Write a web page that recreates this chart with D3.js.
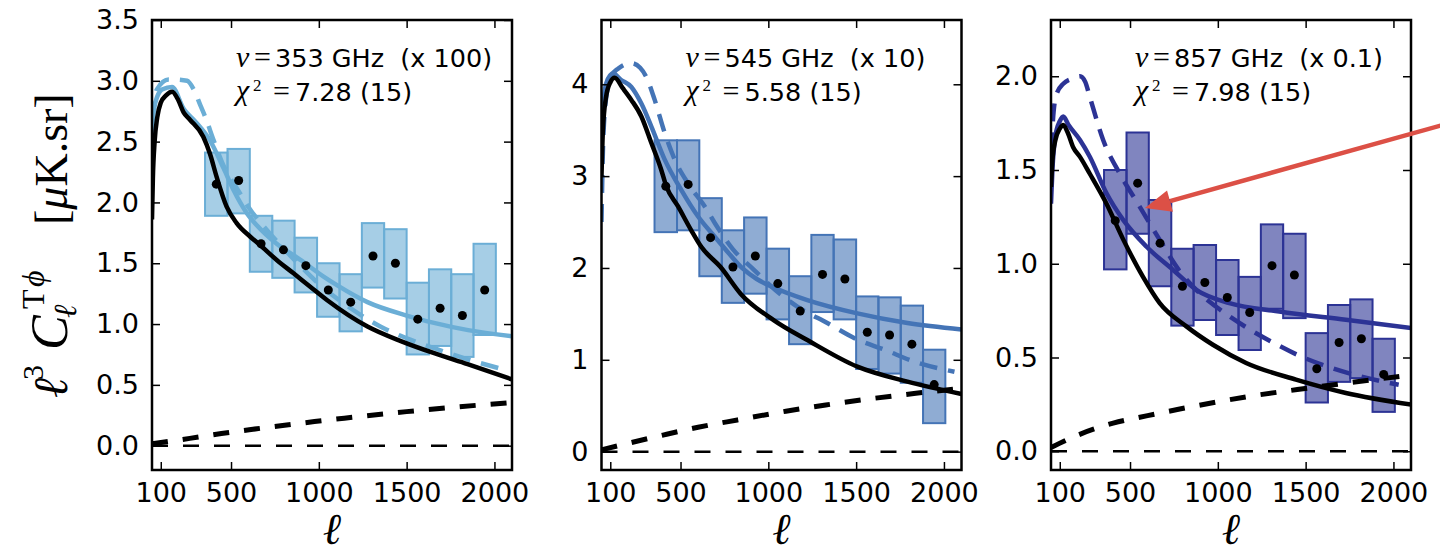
<!DOCTYPE html>
<html>
<head>
<meta charset="utf-8">
<script src="https://d3js.org/d3.v7.min.js"></script>
<style>
  body { margin: 0; background: #fff; }
  svg text { font-family: 'DejaVu Sans', sans-serif; fill: #000; }
  svg text.math { font-family: 'Liberation Serif', 'DejaVu Serif', serif; }
</style>
</head>
<body>
<svg id="chart" width="1440" height="554"></svg>
<script>

// multipole bins (same for the three frequencies)
var binEdges = [352, 480, 607, 735, 862, 990, 1118, 1245, 1372, 1500, 1627, 1754, 1881, 2008];
var xTicks = [100, 500, 1000, 1500, 2000];

// 353 GHz (x 100)
var yTicks353 = [0, 0.5, 1, 1.5, 2, 2.5, 3, 3.5];
var dots353 = [2.15, 2.18, 1.66, 1.61, 1.48, 1.28, 1.18, 1.56, 1.50, 1.04, 1.13, 1.07, 1.28];
var hi353 = [2.41, 2.44, 1.89, 1.85, 1.71, 1.50, 1.41, 1.83, 1.78, 1.34, 1.45, 1.41, 1.66];
var lo353 = [1.89, 1.91, 1.43, 1.38, 1.26, 1.06, 0.94, 1.30, 1.21, 0.75, 0.82, 0.73, 0.91];
var black353 = [[50, 1.86], [55, 2.2], [65, 2.5], [80, 2.7], [100, 2.82], [130, 2.88], [164, 2.91], [200, 2.84], [230, 2.74],
    [266, 2.68], [342, 2.54], [380, 2.40], [418, 2.21], [475, 1.965], [532, 1.83], [608, 1.72], [665, 1.65], [760, 1.527],
    [856, 1.417], [951, 1.307], [1046, 1.198], [1277, 0.98], [1467, 0.86], [1657, 0.76], [1847, 0.67], [2100, 0.545]];
var fit353 = [[50, 2.55], [60, 2.75], [80, 2.87], [110, 2.93], [164, 2.95], [230, 2.77], [300, 2.66], [380, 2.51], [458, 2.28],
    [515, 2.10], [591, 1.91], [648, 1.81], [760, 1.66], [893, 1.53], [1027, 1.39], [1103, 1.32], [1277, 1.18], [1500, 1.07],
    [1656, 1.01], [1850, 0.95], [2100, 0.90]];
var fitDash353 = [[50, 2.68], [60, 2.82], [78, 2.93], [145, 3.01], [183, 3.01], [250, 3.0], [287, 2.93], [325, 2.80], [354, 2.70],
    [401, 2.51], [449, 2.33], [553, 2.07], [600, 1.96], [700, 1.78], [800, 1.62], [900, 1.47], [1000, 1.33], [1181, 1.13],
    [1350, 0.98], [1524, 0.87], [1700, 0.78], [1847, 0.71], [2056, 0.625]];
var blackDash353 = [[50, 0.015], [265, 0.06], [445, 0.10], [625, 0.135], [805, 0.168], [975, 0.198], [1145, 0.226],
    [1500, 0.28], [1800, 0.32], [2100, 0.355]];

// 545 GHz (x 10)
var yTicks545 = [0, 1, 2, 3, 4];
var dots545 = [2.89, 2.91, 2.33, 2.01, 2.13, 1.83, 1.53, 1.93, 1.88, 1.30, 1.27, 1.17, 0.73];
var hi545 = [3.39, 3.39, 2.76, 2.41, 2.55, 2.21, 1.91, 2.36, 2.31, 1.69, 1.68, 1.59, 1.11];
var lo545 = [2.39, 2.41, 1.91, 1.62, 1.72, 1.44, 1.17, 1.52, 1.44, 0.90, 0.85, 0.75, 0.31];
var black545 = [[50, 3.0], [58, 3.5], [75, 3.85], [100, 4.02], [125, 4.07], [170, 3.96], [220, 3.83], [277, 3.65], [334, 3.36],
    [390, 3.07], [419, 2.89], [486, 2.67], [561, 2.41], [618, 2.23], [728, 2.01], [842, 1.72], [1032, 1.43], [1222, 1.215],
    [1507, 0.925], [1792, 0.762], [2100, 0.628]];
var fit545 = [[50, 3.3], [58, 3.7], [75, 4.0], [100, 4.1], [115, 4.12], [160, 4.05], [220, 3.97], [277, 3.79], [334, 3.54],
    [410, 3.18], [504, 2.85], [600, 2.56], [695, 2.34], [766, 2.18], [850, 2.0], [934, 1.88], [1028, 1.79], [1222, 1.65],
    [1507, 1.505], [1792, 1.40], [2100, 1.33]];
var fitDash545 = [[50, 2.5], [60, 3.4], [80, 3.9], [110, 4.1], [144, 4.17], [220, 4.23], [270, 4.18], [305, 4.08], [353, 3.83],
    [410, 3.47], [467, 3.18], [543, 2.92], [638, 2.67], [695, 2.49], [800, 2.2], [918, 1.98], [1040, 1.76], [1165, 1.58],
    [1336, 1.40], [1507, 1.22], [1661, 1.11], [1832, 0.98], [2060, 0.87]];
var blackDash545 = [[50, 0.02], [200, 0.09], [400, 0.18], [600, 0.265], [824, 0.345], [1100, 0.44], [1327, 0.508],
    [1600, 0.58], [1840, 0.635], [2060, 0.68]];

// 857 GHz (x 0.1)
var yTicks857 = [0, 0.5, 1, 1.5, 2];
var dots857 = [1.23, 1.43, 1.11, 0.88, 0.90, 0.82, 0.74, 0.99, 0.94, 0.44, 0.58, 0.60, 0.41];
var hi857 = [1.50, 1.70, 1.34, 1.08, 1.10, 1.02, 0.93, 1.21, 1.16, 0.63, 0.78, 0.81, 0.60];
var lo857 = [0.97, 1.16, 0.88, 0.67, 0.70, 0.62, 0.54, 0.76, 0.71, 0.26, 0.37, 0.39, 0.21];
var black857 = [[50, 1.41], [58, 1.55], [75, 1.66], [100, 1.72], [120, 1.74], [145, 1.70], [177, 1.62], [215, 1.57], [271, 1.48],
    [366, 1.32], [461, 1.13], [574, 0.93], [669, 0.79], [821, 0.666], [972, 0.568], [1161, 0.471], [1445, 0.382],
    [1729, 0.311], [2100, 0.249]];
var fit857 = [[50, 1.32], [58, 1.5], [75, 1.68], [100, 1.76], [120, 1.785], [150, 1.74], [215, 1.66], [271, 1.571], [366, 1.376],
    [461, 1.234], [593, 1.092], [744, 0.968], [877, 0.861], [1066, 0.79], [1350, 0.745], [1729, 0.701], [2100, 0.657]];
var fitDash857 = [[50, 1.45], [60, 1.75], [80, 1.9], [120, 1.96], [180, 1.99], [215, 2.0], [245, 1.97], [271, 1.89], [347, 1.66],
    [442, 1.48], [555, 1.305], [669, 1.127], [783, 0.96], [900, 0.84], [1010, 0.757], [1181, 0.65], [1314, 0.58],
    [1487, 0.50], [1639, 0.447], [1975, 0.365], [2030, 0.355]];
var blackDash857 = [[50, 0.02], [200, 0.085], [404, 0.15], [600, 0.19], [783, 0.225], [1161, 0.29], [1540, 0.34], [2041, 0.40]];

var panels = [
    {freq: '353', mult: '100', chi2: '7.28', dof: '15', color: '#6baed6', yDomain: [-0.2, 3.5], yTicks: yTicks353, fmt: '.1f',
        dots: dots353, hi: hi353, lo: lo353, black: black353, fit: fit353, fitDash: fitDash353, blackDash: blackDash353},
    {freq: '545', mult: '10', chi2: '5.58', dof: '15', color: '#4474b6', yDomain: [-0.2, 4.7], yTicks: yTicks545, fmt: 'd',
        dots: dots545, hi: hi545, lo: lo545, black: black545, fit: fit545, fitDash: fitDash545, blackDash: blackDash545},
    {freq: '857', mult: '0.1', chi2: '7.98', dof: '15', color: '#2c3395', yDomain: [-0.1, 2.3], yTicks: yTicks857, fmt: '.1f',
        dots: dots857, hi: hi857, lo: lo857, black: black857, fit: fit857, fitDash: fitDash857, blackDash: blackDash857}
];

var svg = d3.select('#chart');

var panelLeft = [152, 601.5, 1051];
var plotTop = 20,
    plotW = 360,
    plotH = 450;

function drawPanel(p, i)
{
    var left = panelLeft[i];
    var x = d3.scaleLinear().domain([50, 2100]).range([left, left + plotW]);
    var y = d3.scaleLinear().domain(p.yDomain).range([plotTop + plotH, plotTop]);

    var g = svg.append('g');

    g.append('clipPath')
        .attr('id', 'clip' + i)
        .append('rect')
        .attr('x', left).attr('y', plotTop)
        .attr('width', plotW).attr('height', plotH);

    var plot = g.append('g').attr('clip-path', 'url(#clip' + i + ')');

    // zero line
    plot.append('line')
        .attr('x1', x(50)).attr('x2', x(2100))
        .attr('y1', y(0)).attr('y2', y(0))
        .attr('stroke', '#000')
        .attr('stroke-width', 2.5)
        .attr('stroke-dasharray', '16,15');

    // binned measurements
    plot.selectAll('rect.bin')
        .data(p.dots)
        .enter()
        .append('rect')
        .attr('class', 'bin')
        .attr('x', function (d, k) { return x(binEdges[k]); })
        .attr('width', function (d, k) { return x(binEdges[k + 1]) - x(binEdges[k]); })
        .attr('y', function (d, k) { return y(p.hi[k]); })
        .attr('height', function (d, k) { return y(p.lo[k]) - y(p.hi[k]); })
        .attr('fill', p.color)
        .attr('fill-opacity', 0.6)
        .attr('stroke', p.color)
        .attr('stroke-width', 2);

    var line = d3.line()
        .x(function (d) { return x(d[0]); })
        .y(function (d) { return y(d[1]); })
        .curve(d3.curveMonotoneX);

    plot.append('path').datum(p.fit)
        .attr('d', line).attr('fill', 'none')
        .attr('stroke', p.color).attr('stroke-width', 4.5);

    plot.append('path').datum(p.fitDash)
        .attr('d', line).attr('fill', 'none')
        .attr('stroke', p.color).attr('stroke-width', 4.5)
        .attr('stroke-dasharray', '18,11');

    plot.append('path').datum(p.blackDash)
        .attr('d', line).attr('fill', 'none')
        .attr('stroke', '#000').attr('stroke-width', 5)
        .attr('stroke-dasharray', '16,15');

    plot.append('path').datum(p.black)
        .attr('d', line).attr('fill', 'none')
        .attr('stroke', '#000').attr('stroke-width', 4.5);

    plot.selectAll('circle.pt')
        .data(p.dots)
        .enter()
        .append('circle')
        .attr('class', 'pt')
        .attr('cx', function (d, k) { return x((binEdges[k] + binEdges[k + 1]) / 2); })
        .attr('cy', function (d) { return y(d); })
        .attr('r', 4.5)
        .attr('fill', '#000');

    // axes, ticks inside on all four sides
    var axes = [
        {a: d3.axisBottom(x).tickValues(xTicks).tickFormat(d3.format('d')), t: 'translate(0,' + (plotTop + plotH) + ')'},
        {a: d3.axisTop(x).tickValues(xTicks).tickFormat(''), t: 'translate(0,' + plotTop + ')'},
        {a: d3.axisLeft(y).tickValues(p.yTicks).tickFormat(d3.format(p.fmt)), t: 'translate(' + left + ',0)'},
        {a: d3.axisRight(y).tickValues(p.yTicks).tickFormat(''), t: 'translate(' + (left + plotW) + ',0)'}
    ];
    axes.forEach(function (ax) {
        var ag = g.append('g')
            .attr('transform', ax.t)
            .call(ax.a.tickSizeInner(-8).tickSizeOuter(0).tickPadding(13));
        ag.select('.domain').remove();
        ag.selectAll('line').attr('stroke', '#000').attr('stroke-width', 1.5);
        ag.selectAll('text')
            .attr('fill', '#000')
            .style('font-family', "'DejaVu Sans', sans-serif")
            .style('font-size', '27px');
    });

    g.append('rect')
        .attr('x', left).attr('y', plotTop)
        .attr('width', plotW).attr('height', plotH)
        .attr('fill', 'none')
        .attr('stroke', '#000')
        .attr('stroke-width', 2.5);

    // x label
    g.append('text')
        .attr('class', 'math')
        .attr('x', left + plotW / 2)
        .attr('y', 544)
        .attr('text-anchor', 'middle')
        .style('font-size', '44px')
        .style('font-style', 'italic')
        .text('\u2113');

    // frequency and chi2 annotation
    var tx = left + 84;
    g.append('text').attr('class', 'math').attr('x', tx).attr('y', 67)
        .style('font-size', '30px').style('font-style', 'italic').text('\u03bd');
    g.append('text').attr('class', 'math').attr('x', tx + 18).attr('y', 67)
        .style('font-size', '30px').text('=');
    g.append('text').attr('x', tx + 39).attr('y', 67)
        .style('font-size', '25.5px').style('white-space', 'pre')
        .text(p.freq + ' GHz  (x ' + p.mult + ')');

    g.append('text').attr('class', 'math').attr('x', tx).attr('y', 100)
        .style('font-size', '30px').style('font-style', 'italic').text('\u03c7');
    g.append('text').attr('class', 'math').attr('x', tx + 17).attr('y', 91)
        .style('font-size', '17px').text('2');
    g.append('text').attr('class', 'math').attr('x', tx + 37).attr('y', 101)
        .style('font-size', '30px').text('=');
    g.append('text').attr('x', tx + 59).attr('y', 101)
        .style('font-size', '25.5px')
        .text(p.chi2 + ' (' + p.dof + ')');

    return {x: x, y: y};
}

var scales = panels.map(drawPanel);

// y label, written bottom to top
var ylab = svg.append('g').attr('transform', 'translate(67,0) rotate(-90)');
function ypart(txt, pos, dy, size, italic)
{
    ylab.append('text')
        .attr('class', 'math')
        .attr('x', -pos)
        .attr('y', dy)
        .style('font-size', size + 'px')
        .style('font-style', italic ? 'italic' : 'normal')
        .text(txt);
}
ypart('\u2113', 398, 0, 48, true);
ypart('3', 380, -24, 30, false);
ypart('C', 350, 0, 52, true);
ypart('\u2113', 318, 9, 32, true);
ypart('T', 309, -23, 32, false);
ypart('\u03d5', 287, -23, 32, true);

var br = ylab.append('text')
    .attr('class', 'math')
    .attr('x', -225)
    .attr('y', 0)
    .style('font-size', '46px');
br.append('tspan').text('[');
br.append('tspan').style('font-style', 'italic').text('\u03bc');
br.append('tspan').text('K.sr]');

// red arrow pointing at the 857 GHz dashed curve
var ax = scales[2].x, ay = scales[2].y;
var tip = [ax(585), ay(1.297)],
    tail = [ax(2300), ay(1.745)];
var dx = tip[0] - tail[0], dy = tip[1] - tail[1];
var len = Math.sqrt(dx * dx + dy * dy);
var ux = dx / len, uy = dy / len;
var base = [tip[0] - 26 * ux, tip[1] - 26 * uy];
svg.append('line')
    .attr('x1', tail[0]).attr('y1', tail[1])
    .attr('x2', base[0]).attr('y2', base[1])
    .attr('stroke', '#dc5046')
    .attr('stroke-width', 4.5);
svg.append('polygon')
    .attr('points', [
        tip,
        [base[0] - 11 * uy, base[1] + 11 * ux],
        [base[0] + 11 * uy, base[1] - 11 * ux]
    ].map(function (p) { return p.join(','); }).join(' '))
    .attr('fill', '#dc5046');

</script>
</body>
</html>
